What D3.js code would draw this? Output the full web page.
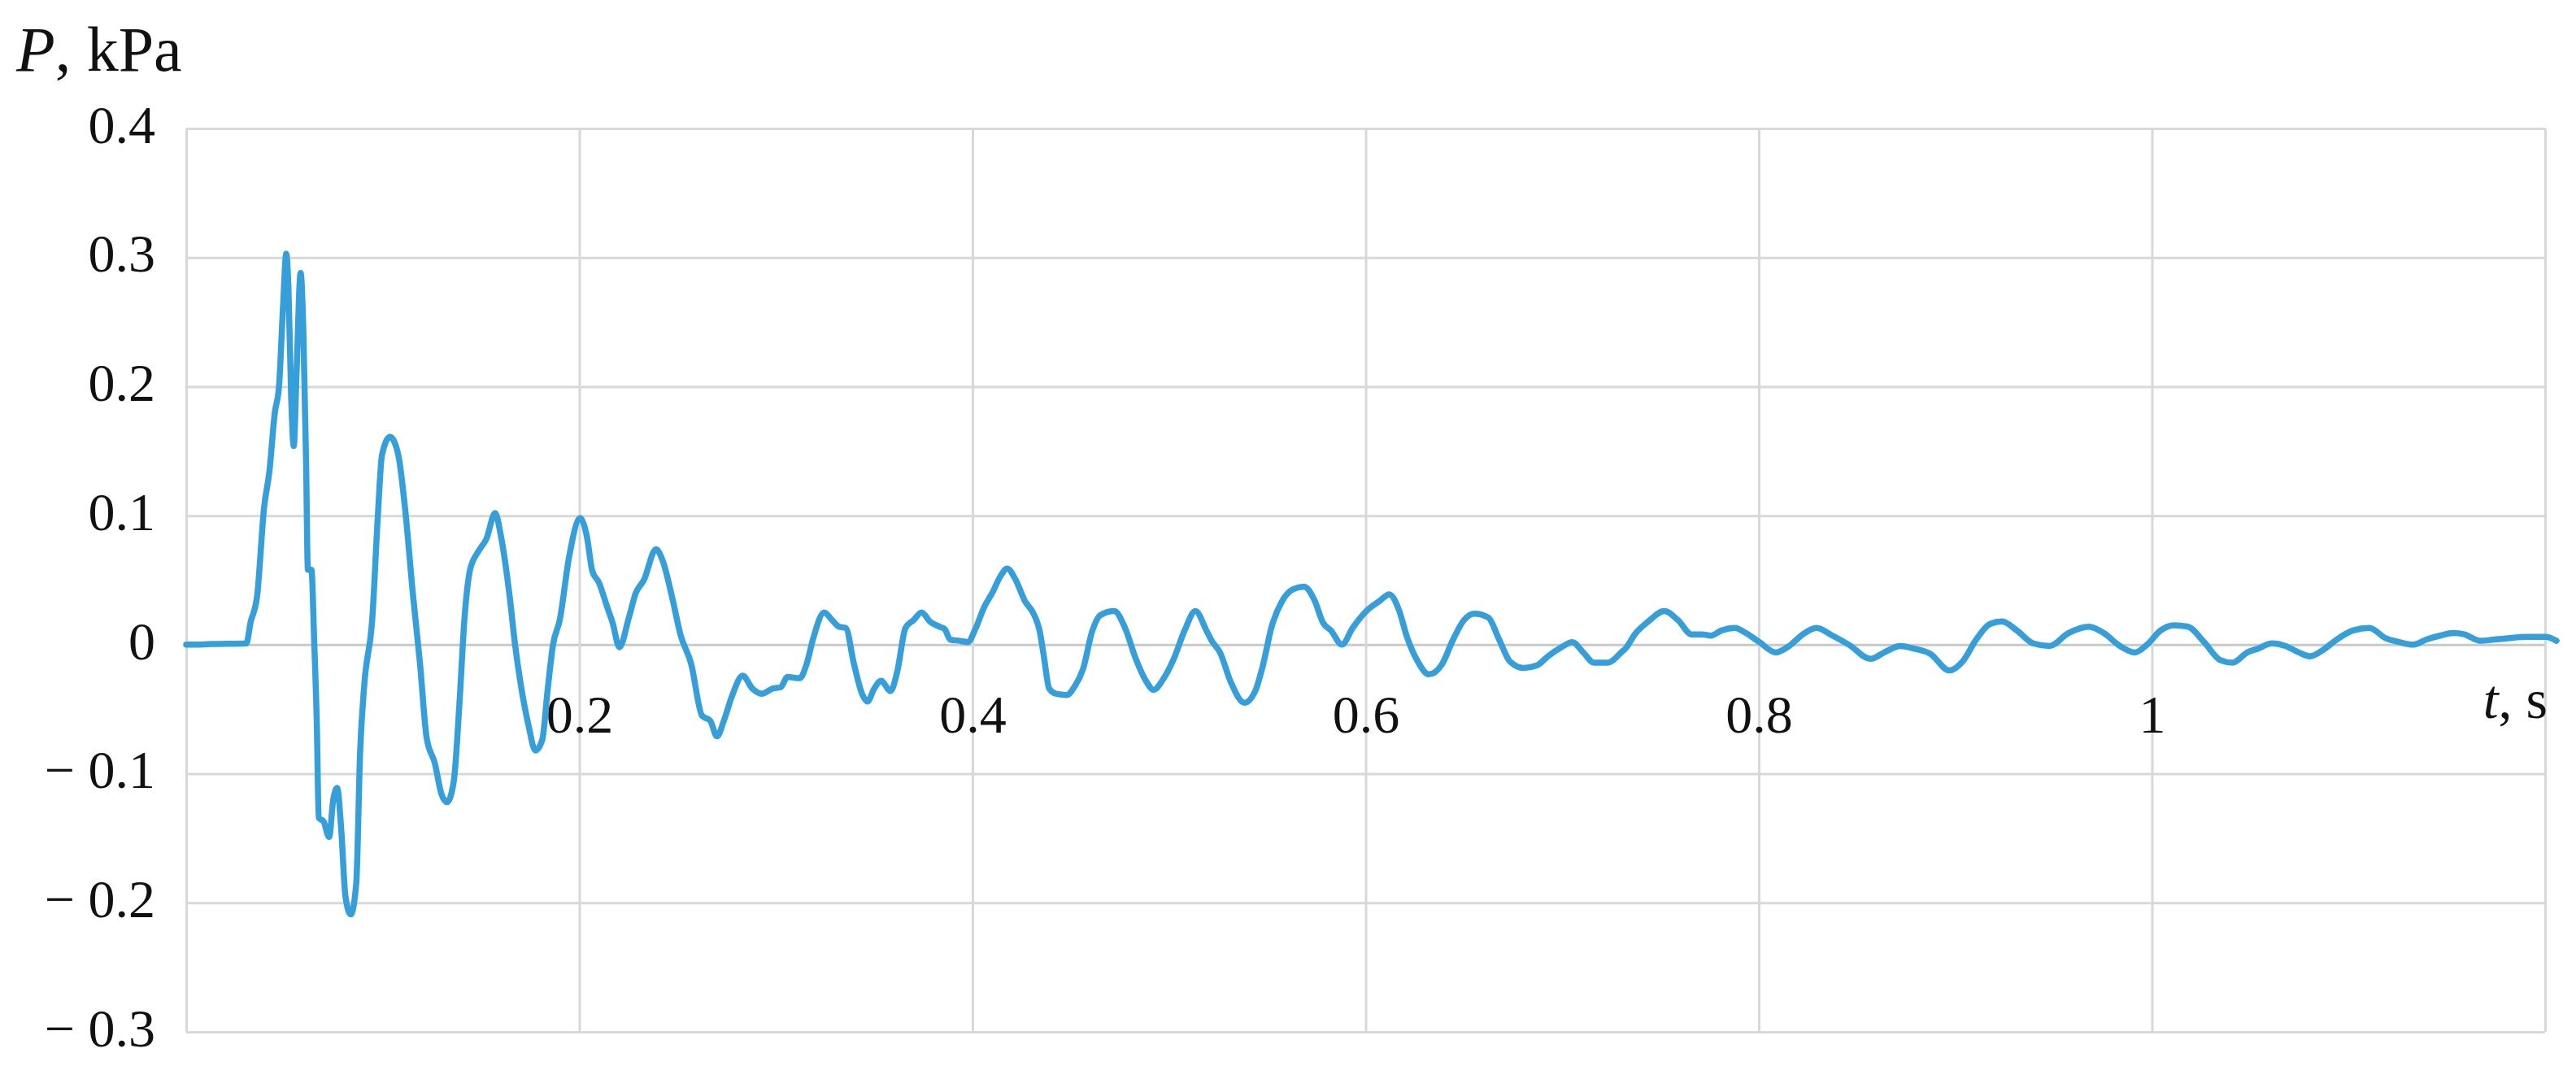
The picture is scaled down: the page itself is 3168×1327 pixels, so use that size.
<!DOCTYPE html>
<html>
<head>
<meta charset="utf-8">
<script src="https://cdn.jsdelivr.net/npm/d3@7"></script>
<style>
  html, body { margin: 0; padding: 0; background: #fff; }
  svg { display: block; font-family: "Liberation Serif", "Times New Roman", serif; }
</style>
</head>
<body>
<svg width="3168" height="1327"></svg>
<script>
// time, s
const tValues = [
  0, 0.0023, 0.0134, 0.0306, 0.0327, 0.0361, 0.0396, 0.0423, 0.0451, 0.0472,
  0.0492, 0.0509, 0.0520, 0.0534, 0.0547, 0.0561, 0.0582, 0.0596, 0.0610, 0.0619,
  0.0637, 0.0651, 0.0665, 0.0674, 0.0699, 0.0727, 0.0748, 0.0768, 0.0789, 0.0810,
  0.0837, 0.0865, 0.0885, 0.0906, 0.0947, 0.0975, 0.0996, 0.1037, 0.1079, 0.1113,
  0.1154, 0.1189, 0.1223, 0.1265, 0.1299, 0.1327, 0.1361, 0.1389, 0.1416, 0.1444,
  0.1485, 0.1527, 0.1572, 0.1600, 0.1645, 0.1673, 0.1700, 0.1742, 0.1776, 0.1811,
  0.1838, 0.1866, 0.1900, 0.1949, 0.2004, 0.2038, 0.2066, 0.2100, 0.2142, 0.2169,
  0.2204, 0.2252, 0.2287, 0.2328, 0.2390, 0.2424, 0.2473, 0.2514, 0.2569, 0.2624,
  0.2666, 0.2700, 0.2735, 0.2776, 0.2831, 0.2880, 0.2928, 0.2983, 0.3024, 0.3059,
  0.3121, 0.3156, 0.3190, 0.3245, 0.3286, 0.3321, 0.3355, 0.3397, 0.3438, 0.3466,
  0.3500, 0.3535, 0.3583, 0.3617, 0.3659, 0.3700, 0.3741, 0.3783, 0.3831, 0.3859,
  0.3886, 0.3935, 0.3976, 0.4017, 0.4059, 0.4100, 0.4142, 0.4176, 0.4217, 0.4266,
  0.4314, 0.4341, 0.4362, 0.4390, 0.4424, 0.4479, 0.4521, 0.4562, 0.4610, 0.4652,
  0.4721, 0.4776, 0.4831, 0.4886, 0.4921, 0.4969, 0.5024, 0.5079, 0.5134, 0.5190,
  0.5217, 0.5259, 0.5314, 0.5383, 0.5438, 0.5479, 0.5520, 0.5576, 0.5631, 0.5686,
  0.5741, 0.5783, 0.5824, 0.5879, 0.5934, 0.6003, 0.6072, 0.6120, 0.6169, 0.6210,
  0.6265, 0.6321, 0.6389, 0.6445, 0.6500, 0.6555, 0.6624, 0.6679, 0.6734, 0.6803,
  0.6872, 0.6927, 0.6996, 0.7051, 0.7107, 0.7162, 0.7231, 0.7300, 0.7327, 0.7369,
  0.7438, 0.7520, 0.7589, 0.7658, 0.7713, 0.7755, 0.7810, 0.7879, 0.7934, 0.8003,
  0.8086, 0.8155, 0.8224, 0.8293, 0.8375, 0.8458, 0.8569, 0.8638, 0.8720, 0.8789,
  0.8872, 0.8969, 0.9037, 0.9106, 0.9175, 0.9237, 0.9313, 0.9396, 0.9479, 0.9575,
  0.9679, 0.9755, 0.9837, 0.9913, 0.9975, 1.0044, 1.0113, 1.0182, 1.0265, 1.0348,
  1.0410, 1.0485, 1.0541, 1.0610, 1.0679, 1.0747, 1.0803, 1.0871, 1.0940, 1.1023,
  1.1106, 1.1189, 1.1258, 1.1327, 1.1396, 1.1465, 1.1534, 1.1589, 1.1671, 1.1741,
  1.1809, 1.1906, 1.2003, 1.2058
]

// pressure, kPa
const pValues = [
  0, 0, 0.0005, 0.001, 0.017, 0.038, 0.106, 0.134, 0.18, 0.2,
  0.26, 0.303, 0.277, 0.192, 0.154, 0.209, 0.288, 0.243, 0.14, 0.058,
  0.058, 0.003, -0.065, -0.134, -0.137, -0.149, -0.12, -0.111, -0.144, -0.195,
  -0.209, -0.185, -0.082, -0.031, 0.021, 0.1, 0.147, 0.161, 0.147, 0.106,
  0.038, -0.014, -0.072, -0.092, -0.116, -0.122, -0.106, -0.048, 0.021, 0.058,
  0.072, 0.082, 0.102, 0.085, 0.038, 0, -0.029, -0.063, -0.082, -0.074,
  -0.036, 0, 0.019, 0.069, 0.098, 0.084, 0.057, 0.048, 0.029, 0.017,
  -0.002, 0.021, 0.04, 0.05, 0.074, 0.065, 0.036, 0.008, -0.015, -0.055,
  -0.059, -0.071, -0.059, -0.04, -0.024, -0.034, -0.038, -0.034, -0.033, -0.025,
  -0.026, -0.015, 0.005, 0.025, 0.019, 0.014, 0.013, -0.015, -0.038, -0.044,
  -0.034, -0.028, -0.036, -0.021, 0.013, 0.019, 0.025, 0.018, 0.014, 0.012,
  0.004, 0.003, 0.002, 0.013, 0.029, 0.04, 0.053, 0.059, 0.051, 0.034,
  0.023, 0.011, -0.008, -0.034, -0.038, -0.039, -0.032, -0.019, 0.011, 0.023,
  0.026, 0.013, -0.011, -0.029, -0.035, -0.027, -0.011, 0.011, 0.026, 0.011,
  0.003, -0.006, -0.029, -0.045, -0.036, -0.015, 0.013, 0.034, 0.043, 0.045,
  0.034, 0.017, 0.011, 0, 0.013, 0.026, 0.034, 0.039, 0.027, 0.006,
  -0.013, -0.023, -0.015, 0.004, 0.019, 0.024, 0.021, 0.004, -0.013, -0.018,
  -0.016, -0.009, -0.002, 0.002, -0.006, -0.014, -0.014, -0.006, -0.002, 0.008,
  0.018, 0.026, 0.019, 0.008, 0.008, 0.007, 0.011, 0.013, 0.009, 0.002,
  -0.006, -0.001, 0.008, 0.013, 0.007, 0, -0.011, -0.006, -0.001, -0.003,
  -0.007, -0.02, -0.013, 0.004, 0.016, 0.018, 0.011, 0.001, -0.001, 0.009,
  0.014, 0.009, -0.001, -0.006, 0, 0.011, 0.015, 0.014, 0.002, -0.012,
  -0.014, -0.006, -0.003, 0.001, -0.001, -0.006, -0.009, -0.004, 0.004, 0.011,
  0.013, 0.005, 0.002, 0, 0.004, 0.007, 0.009, 0.008, 0.003, 0.004,
  0.005, 0.006, 0.006, 0.003
]

const xTicks = [0, 0.2, 0.4, 0.6, 0.8, 1, 1.2]
const xLabelTicks = [0.2, 0.4, 0.6, 0.8, 1]
const xTickLabels = ['0.2', '0.4', '0.6', '0.8', '1']
const yTicks = [0.4, 0.3, 0.2, 0.1, 0, -0.1, -0.2, -0.3]
const yTickLabels = ['0.4', '0.3', '0.2', '0.1', '0', '\u2212 0.1', '\u2212 0.2', '\u2212 0.3']

const svg = d3.select('svg')
const width = +svg.attr('width')
const height = +svg.attr('height')
const margin = {top: 158, right: 38, bottom: 58, left: 229}
const innerWidth = width - margin.left - margin.right
const innerHeight = height - margin.top - margin.bottom

const x = d3.scaleLinear().domain([0, 1.2]).range([margin.left, margin.left + innerWidth])
const y = d3.scaleLinear().domain([-0.3, 0.4]).range([margin.top + innerHeight, margin.top])

// grid
const yGrid = svg.append('g')
  .attr('transform', `translate(${margin.left}, 0)`)
  .call(d3.axisLeft(y).tickValues(yTicks).tickSize(-innerWidth).tickFormat(''))
yGrid.select('.domain').remove()
yGrid.selectAll('text').remove()
yGrid.selectAll('line')
  .attr('stroke', d => d === 0 ? '#c9c9c9' : '#d8d8d8')
  .attr('stroke-width', 3)

const xGrid = svg.append('g')
  .attr('transform', `translate(0, ${margin.top + innerHeight})`)
  .call(d3.axisBottom(x).tickValues(xTicks).tickSize(-innerHeight).tickFormat(''))
xGrid.select('.domain').remove()
xGrid.selectAll('text').remove()
xGrid.selectAll('line')
  .attr('stroke', '#d8d8d8')
  .attr('stroke-width', 3)

// x tick labels sit just under the zero line
const xLabels = svg.append('g')
  .attr('transform', `translate(0, ${y(0)})`)
  .call(d3.axisBottom(x).tickValues(xLabelTicks).tickSize(0).tickPadding(61)
    .tickFormat((d, i) => xTickLabels[i]))
xLabels.select('.domain').remove()
xLabels.selectAll('text')
  .attr('font-family', '"Liberation Serif", serif')
  .attr('font-size', 66)
  .attr('fill', '#111')

// y tick labels
const yLabels = svg.append('g')
  .attr('transform', `translate(${margin.left}, 0)`)
  .call(d3.axisLeft(y).tickValues(yTicks).tickSize(0).tickPadding(38)
    .tickFormat((d, i) => yTickLabels[i]))
yLabels.select('.domain').remove()
yLabels.selectAll('text')
  .attr('dy', '0.26em')
  .attr('font-family', '"Liberation Serif", serif')
  .attr('font-size', 66)
  .attr('fill', '#111')

// pressure curve
const points = tValues.map((t, i) => [t, pValues[i]])
const line = d3.line()
  .x(d => x(d[0]))
  .y(d => y(d[1]))
  .curve(d3.curveMonotoneX)

svg.append('path')
  .datum(points)
  .attr('d', line)
  .attr('fill', 'none')
  .attr('stroke', '#369fd9')
  .attr('stroke-width', 7.5)
  .attr('stroke-linejoin', 'round')
  .attr('stroke-linecap', 'round')

// axis titles
const yTitle = svg.append('text')
  .attr('x', 20)
  .attr('y', 87)
  .attr('font-size', 78)
  .attr('fill', '#111')
yTitle.append('tspan').attr('font-style', 'italic').text('P')
yTitle.append('tspan').text(', kPa')

const xTitle = svg.append('text')
  .attr('x', 3133)
  .attr('y', 883)
  .attr('text-anchor', 'end')
  .attr('font-size', 68)
  .attr('fill', '#111')
xTitle.append('tspan').attr('font-style', 'italic').text('t')
xTitle.append('tspan').text(', s')
</script>
</body>
</html>
